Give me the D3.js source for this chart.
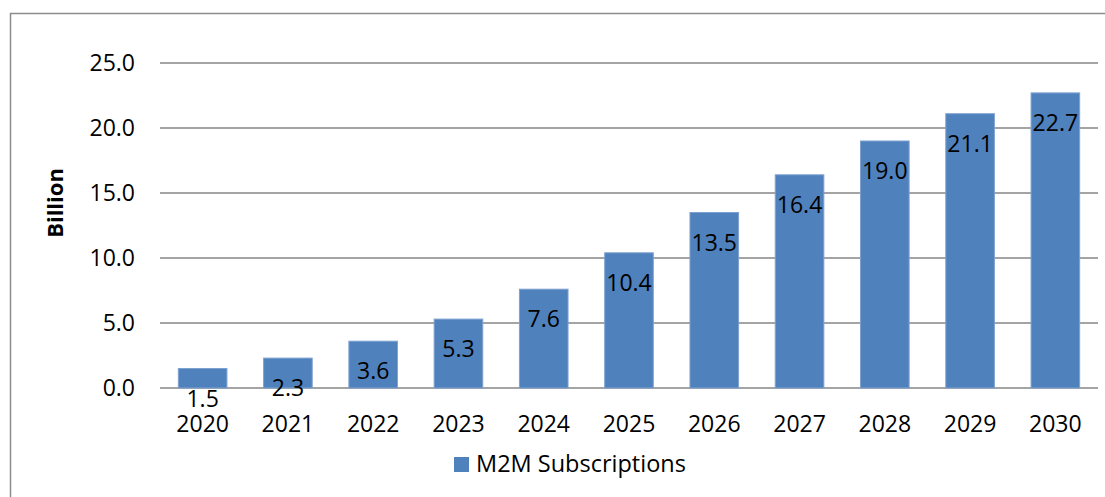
<!DOCTYPE html>
<html>
<head>
<meta charset="utf-8">
<script src="https://cdn.jsdelivr.net/npm/d3@7"></script>
<style>
  body { margin: 0; background: #fff; }
</style>
</head>
<body>
<div id="chart"></div>
<script>
  const years = ["2020","2021","2022","2023","2024","2025","2026","2027","2028","2029","2030"];
  const subs = [1.5, 2.3, 3.6, 5.3, 7.6, 10.4, 13.5, 16.4, 19.0, 21.1, 22.7];
  const yTicks = [0, 5, 10, 15, 20, 25];
  const seriesName = "M2M Subscriptions";

  const W = 1105, H = 497;
  const margin = { top: 63, right: 7, bottom: 109, left: 160 };
  const font = "'Open Sans', sans-serif";
  const fs = 23;

  const svg = d3.select("#chart").append("svg")
    .attr("width", W)
    .attr("height", H);

  // outer chart frame (runs off the right and bottom edge)
  svg.append("rect")
    .attr("x", 10.5).attr("y", 13.5)
    .attr("width", W + 20).attr("height", H + 20)
    .attr("fill", "none")
    .attr("stroke", "#8c8c8c")
    .attr("stroke-width", 1.5);

  const x = d3.scaleBand()
    .domain(years)
    .range([margin.left, W - margin.right])
    .paddingInner(0.43)
    .paddingOuter(0.215);

  const y = d3.scaleLinear()
    .domain([0, 25])
    .range([H - margin.bottom, margin.top]);

  // gridlines
  svg.append("g")
    .selectAll("line")
    .data(yTicks)
    .enter().append("line")
    .attr("x1", margin.left)
    .attr("x2", W - margin.right)
    .attr("y1", d => y(d))
    .attr("y2", d => y(d))
    .attr("stroke", "#868686")
    .attr("stroke-width", 1.5);

  // y tick labels
  svg.append("g")
    .selectAll("text")
    .data(yTicks)
    .enter().append("text")
    .attr("x", 135)
    .attr("y", d => y(d))
    .attr("dy", "0.35em")
    .attr("text-anchor", "end")
    .attr("font-family", font)
    .attr("font-size", fs)
    .text(d => d3.format(".1f")(d));

  // bars
  svg.append("g")
    .selectAll("rect")
    .data(subs)
    .enter().append("rect")
    .attr("x", (d, i) => x(years[i]))
    .attr("y", d => y(d))
    .attr("width", x.bandwidth())
    .attr("height", d => y(0) - y(d))
    .attr("fill", "#4f81bd")
    .attr("stroke", "#7ea2d0")
    .attr("stroke-width", 1);

  // value labels (inside end)
  svg.append("g")
    .selectAll("text")
    .data(subs)
    .enter().append("text")
    .attr("x", (d, i) => x(years[i]) + x.bandwidth() / 2)
    .attr("y", d => y(d) + 30)
    .attr("dy", "0.35em")
    .attr("text-anchor", "middle")
    .attr("font-family", font)
    .attr("font-size", fs)
    .attr("fill", "#000")
    .text(d => d3.format(".1f")(d));

  // x labels
  svg.append("g")
    .selectAll("text")
    .data(years)
    .enter().append("text")
    .attr("x", d => x(d) + x.bandwidth() / 2)
    .attr("y", 424)
    .attr("dy", "0.35em")
    .attr("text-anchor", "middle")
    .attr("font-family", font)
    .attr("font-size", fs)
    .text(d => d);

  // y axis title
  svg.append("text")
    .attr("transform", "translate(55,203) rotate(-90)")
    .attr("dy", "0.35em")
    .attr("text-anchor", "middle")
    .attr("font-family", font)
    .attr("font-weight", "bold")
    .attr("font-size", 22)
    .text("Billion");

  // legend
  svg.append("rect")
    .attr("x", 454).attr("y", 457)
    .attr("width", 15).attr("height", 15)
    .attr("fill", "#4f81bd");

  svg.append("text")
    .attr("x", 476)
    .attr("y", 464)
    .attr("dy", "0.35em")
    .attr("font-family", font)
    .attr("font-size", 23.5)
    .text(seriesName);
</script>
</body>
</html>
